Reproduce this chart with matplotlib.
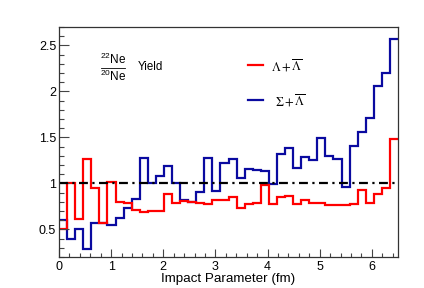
import numpy as np
import matplotlib
matplotlib.use('Agg')
import matplotlib.pyplot as plt
from matplotlib.lines import Line2D
from matplotlib.ticker import MultipleLocator, FixedLocator, FixedFormatter

plt.rcParams['font.family'] = ['Liberation Sans', 'DejaVu Sans']
plt.rcParams['mathtext.fontset'] = 'custom'
plt.rcParams['mathtext.rm'] = 'Liberation Sans'
plt.rcParams['mathtext.it'] = 'Liberation Sans:italic'
plt.rcParams['mathtext.bf'] = 'Liberation Sans:bold'

# ---- data ----
b_min, b_max = 0.0, 6.5
n_bins = 42
lambda_ratio = [0.50, 1.00, 0.61, 1.265, 0.955, 0.575, 1.02, 0.80, 0.79, 0.71,
                0.69, 0.70, 0.705, 0.88, 0.79, 0.81, 0.80, 0.79, 0.775, 0.815,
                0.825, 0.855, 0.73, 0.775, 0.79, 0.98, 0.78, 0.855, 0.86, 0.775,
                0.82, 0.79, 0.79, 0.76, 0.77, 0.76, 0.775, 0.93, 0.79, 0.885,
                0.945, 1.48]
sigma_ratio = [0.60, 0.395, 0.50, 0.29, 0.575, 0.575, 0.545, 0.62, 0.73, 0.835,
               1.28, 1.00, 1.08, 1.19, 1.00, 0.82, 0.795, 0.905, 1.28, 0.92,
               1.22, 1.265, 1.06, 1.16, 1.15, 1.14, 0.99, 1.32, 1.39, 1.17,
               1.29, 1.25, 1.49, 1.30, 1.27, 0.965, 1.41, 1.56, 1.71, 2.06,
               2.20, 2.57]
reference_level = 1.0
x_ticks = [0, 1, 2, 3, 4, 5, 6]
y_ticks = [0.5, 1.0, 1.5, 2.0, 2.5]
y_tick_labels = ['0.5', '1', '1.5', '2', '2.5']
legend_labels = [r'$\Lambda+\overline{\Lambda}$', r'$\Sigma+\overline{\Lambda}$']

edges = np.linspace(b_min, b_max, n_bins + 1)

W, H = 424, 288
fig = plt.figure(figsize=(W / 100, H / 100), dpi=100)
left, right, top, bottom = 59, 398, 27, 257
ax = fig.add_axes([left / W, 1 - bottom / H, (right - left) / W, (bottom - top) / H])

blue = '#0a0aa0'
ax.stairs(sigma_ratio, edges, color=blue, lw=1.6, baseline=None)
ax.stairs(lambda_ratio, edges, color='#ff0000', lw=1.6, baseline=None)
ax.axhline(reference_level, color='black', lw=1.6, ls=(0, (4, 2, 1, 2)))

ax.set_xlim(b_min, b_max)
ax.set_ylim(0.2, 2.7)

ax.xaxis.set_major_locator(FixedLocator(x_ticks))
ax.xaxis.set_minor_locator(MultipleLocator(0.2))
ax.yaxis.set_major_locator(FixedLocator(y_ticks))
ax.yaxis.set_major_formatter(FixedFormatter(y_tick_labels))
ax.yaxis.set_minor_locator(MultipleLocator(0.1))

ax.tick_params(which='both', direction='in', top=False, right=False,
               color='#444444', width=0.8, labelsize=9)
ax.tick_params(axis='x', which='major', length=6, pad=3)
ax.tick_params(axis='x', which='minor', length=3)
ax.tick_params(axis='y', which='major', length=7, pad=2)
ax.tick_params(axis='y', which='minor', length=3.5)
for s in ax.spines.values():
    s.set_color('#333333')
    s.set_linewidth(0.9)

ax.set_xlabel('Impact Parameter (fm)', fontsize=9.6, labelpad=0)

# ratio label
def fx(x):
    return x / W

def fy(y):
    return 1 - y / H

fig.text(fx(113), fy(67), r'$^{22}\mathrm{Ne}$', fontsize=8.5, ha='center', va='bottom')
fig.text(fx(113), fy(68.5), r'$^{20}\mathrm{Ne}$', fontsize=8.5, ha='center', va='top')
fig.add_artist(Line2D([fx(101), fx(125)], [fy(67.7), fy(67.7)], color='black', lw=0.6))
fig.text(fx(138), fy(67), 'Yield', fontsize=8.3, ha='left', va='center')

# legend
fig.add_artist(Line2D([fx(248), fx(263)], [fy(65), fy(65)], color='#ff0000', lw=1.6))
fig.add_artist(Line2D([fx(248), fx(263)], [fy(100), fy(100)], color=blue, lw=1.6))
fig.text(fx(271), fy(66), legend_labels[0], fontsize=9, ha='left', va='center', math_fontfamily='stix')
fig.text(fx(275), fy(101), legend_labels[1], fontsize=9, ha='left', va='center', math_fontfamily='stix')

fig.savefig('out.png', dpi=100)
